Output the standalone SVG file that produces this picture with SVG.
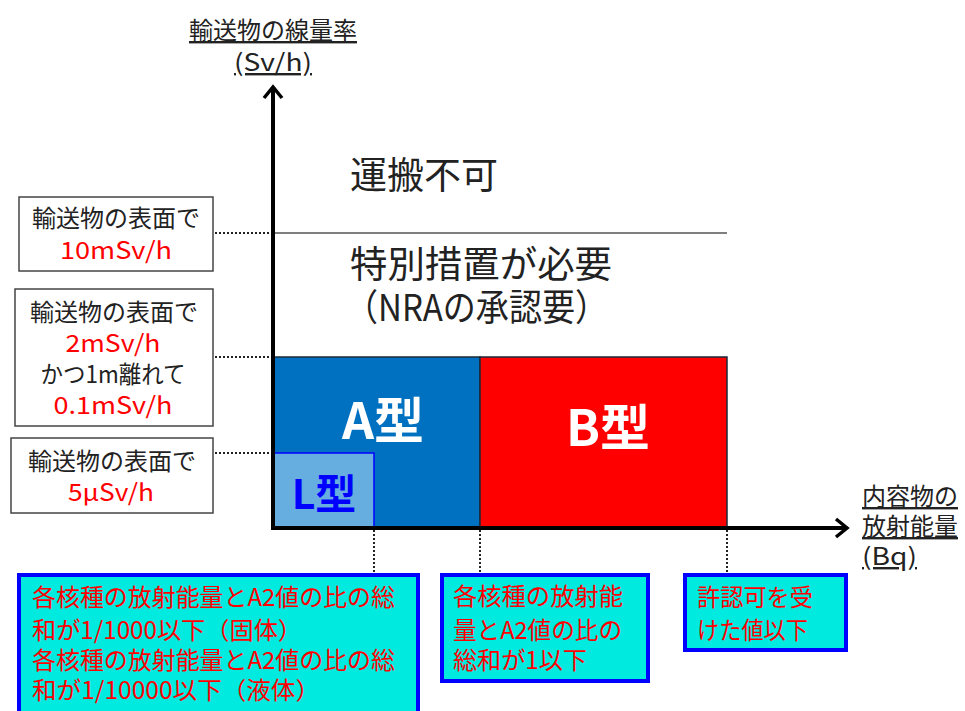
<svg xmlns="http://www.w3.org/2000/svg" width="965" height="711" viewBox="0 0 965 711">
<style>
text{font-family:"Noto Sans CJK JP","Noto Sans",sans-serif;}
.lbl{font-size:24px;fill:#222;text-anchor:middle;}
.red{fill:#FF0000;}
.ax{font-size:24px;fill:#222;}
.big{font-size:37px;fill:#222;}
.bx{fill:#fff;stroke:#444;stroke-width:1.5;}
.cy{fill:#00EAE0;stroke:#0000FF;stroke-width:4;}
.ct{font-size:24px;fill:#FF0000;}
.dot{stroke:#222;stroke-width:2;stroke-dasharray:2,2;fill:none;}
.typ{font-weight:bold;font-family:"Noto Sans CJK JP","Noto Sans",sans-serif;}
</style>
<rect width="965" height="711" fill="#fff"/>
<g id="regions">
<rect x="273" y="357" width="207" height="171" fill="#0070C0" stroke="#1a2a3a" stroke-width="1.5"/>
<rect x="480" y="357" width="247" height="171" fill="#FF0000" stroke="#1a2a3a" stroke-width="1.5"/>
<rect x="273" y="453" width="101" height="75" fill="#66AEE0" stroke="#0000FF" stroke-width="1.5"/>
<text class="typ" x="383" y="439" font-size="50" fill="#fff" text-anchor="middle">A型</text>
<text class="typ" x="608" y="446" font-size="50" fill="#fff" text-anchor="middle">B型</text>
<text class="typ" x="324" y="509" font-size="41" fill="#0000FF" text-anchor="middle">L型</text>
<line x1="273" y1="233" x2="727" y2="233" stroke="#555" stroke-width="1.5"/>
<text class="big" x="350" y="189">運搬不可</text>
<text class="big" x="350" y="278" textLength="262" lengthAdjust="spacingAndGlyphs">特別措置が必要</text>
<text class="big" x="345" y="321" textLength="263" lengthAdjust="spacingAndGlyphs">（NRAの承認要）</text>
</g>
<g id="connectors">
<line class="dot" x1="215" y1="233" x2="273" y2="233"/>
<line class="dot" x1="215" y1="357" x2="273" y2="357"/>
<line class="dot" x1="215" y1="453" x2="273" y2="453"/>
<line class="dot" x1="374" y1="530" x2="374" y2="573"/>
<line class="dot" x1="480" y1="530" x2="480" y2="573"/>
<line class="dot" x1="727" y1="530" x2="727" y2="573"/>
<line x1="273" y1="530" x2="273" y2="88" stroke="#000" stroke-width="4"/>
<polyline points="264,98 273,87 282,98" fill="none" stroke="#000" stroke-width="3.5"/>
<line x1="271" y1="528" x2="846" y2="528" stroke="#000" stroke-width="4"/>
<polyline points="836,519 847,528 836,537" fill="none" stroke="#000" stroke-width="3.5"/>
</g>
<g id="yaxis-label">
<text class="ax" x="273" y="39" text-anchor="middle" text-decoration="underline">輸送物の線量率</text>
<text class="ax" x="273" y="71" text-anchor="middle" text-decoration="underline" textLength="78" lengthAdjust="spacingAndGlyphs">(Sv/h)</text>
</g>
<g id="xaxis-label">
<text class="ax" x="862" y="505" text-decoration="underline">内容物の</text>
<text class="ax" x="862" y="535" text-decoration="underline">放射能量</text>
<text class="ax" x="862" y="565" text-decoration="underline" textLength="55" lengthAdjust="spacingAndGlyphs">(Bq)</text>
</g>
<g id="box-10mSv">
<rect class="bx" x="19" y="197" width="194" height="74"/>
<text class="lbl" x="116" y="227">輸送物の表面で</text>
<text class="lbl red" x="116" y="259" textLength="112" lengthAdjust="spacingAndGlyphs">10mSv/h</text>
</g>
<g id="box-2mSv">
<rect class="bx" x="15" y="289" width="198" height="137"/>
<text class="lbl" x="114" y="321">輸送物の表面で</text>
<text class="lbl red" x="113" y="352" textLength="95" lengthAdjust="spacingAndGlyphs">2mSv/h</text>
<text class="lbl" x="113" y="383" textLength="145" lengthAdjust="spacingAndGlyphs">かつ1m離れて</text>
<text class="lbl red" x="113" y="414" textLength="119" lengthAdjust="spacingAndGlyphs">0.1mSv/h</text>
</g>
<g id="box-5uSv">
<rect class="bx" x="11" y="438" width="202" height="75"/>
<text class="lbl" x="112" y="470">輸送物の表面で</text>
<text class="lbl red" x="111" y="501" textLength="86" lengthAdjust="spacingAndGlyphs">5μSv/h</text>
</g>
<g id="box-L">
<rect class="cy" x="19" y="575" width="399" height="140"/>
<text class="ct" x="32" y="606" textLength="363" lengthAdjust="spacingAndGlyphs">各核種の放射能量とA2値の比の総</text>
<text class="ct" x="32" y="639" textLength="270" lengthAdjust="spacingAndGlyphs">和が1/1000以下（固体）</text>
<text class="ct" x="32" y="669" textLength="363" lengthAdjust="spacingAndGlyphs">各核種の放射能量とA2値の比の総</text>
<text class="ct" x="32" y="699" textLength="288" lengthAdjust="spacingAndGlyphs">和が1/10000以下（液体）</text>
</g>
<g id="box-A">
<rect class="cy" x="442" y="575" width="206" height="106"/>
<text class="ct" x="453" y="605" textLength="170" lengthAdjust="spacingAndGlyphs">各核種の放射能</text>
<text class="ct" x="453" y="639" textLength="169" lengthAdjust="spacingAndGlyphs">量とA2値の比の</text>
<text class="ct" x="453" y="669" textLength="134" lengthAdjust="spacingAndGlyphs">総和が1以下</text>
</g>
<g id="box-B">
<rect class="cy" x="685" y="575" width="161" height="75"/>
<text class="ct" x="697" y="606" textLength="116" lengthAdjust="spacingAndGlyphs">許認可を受</text>
<text class="ct" x="697" y="639" textLength="111" lengthAdjust="spacingAndGlyphs">けた値以下</text>
</g>
</svg>
